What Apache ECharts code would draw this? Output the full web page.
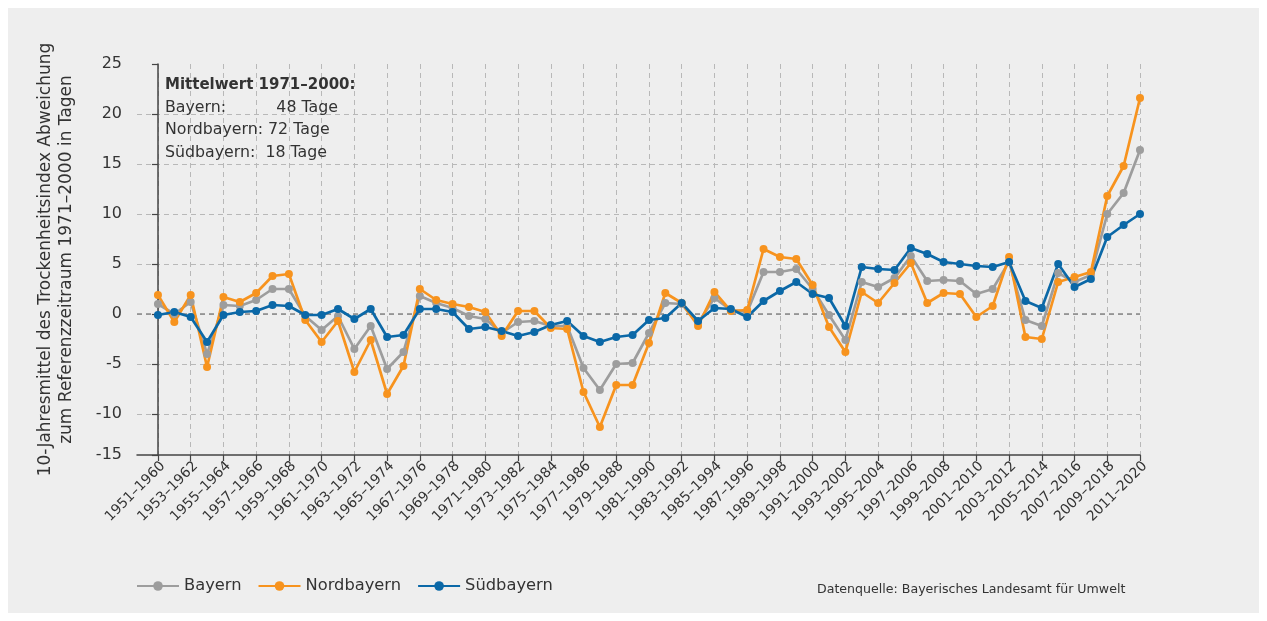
<!DOCTYPE html>
<html>
<head>
<meta charset="utf-8">
<script src="https://cdn.jsdelivr.net/npm/echarts@6/dist/echarts.min.js"></script>
<style>
	html, body { margin: 0; padding: 0; background: #fff; }
	#panel { position: absolute; left: 8px; top: 8px; width: 1251px; height: 605px; background: #eeeeee; }
	#chart { position: absolute; left: 0; top: 0; width: 1267px; height: 621px; }
</style>
</head>
<body>
<div id="panel"></div>
<div id="chart"></div>
<script>
// Zeiträume (gleitende 10-Jahres-Fenster)
const zeitraeume = [];
for (let y = 1951; y <= 2011; y++) {
	zeitraeume.push(y + '–' + (y + 9));
}

// Abweichung in Tagen
const bayern = [1.0, 0.0, 1.2, -4.0, 0.9, 0.8, 1.4, 2.5, 2.5, -0.2, -1.6,
	-0.2, -3.5, -1.2, -5.5, -3.8, 1.8, 1.1, 0.6, -0.2, -0.5,
	-1.9, -0.8, -0.7, -1.2, -1.2, -5.4, -7.6, -5.0, -4.9, -1.9,
	1.1, 1.0, -0.9, 1.6, 0.4, 0.2, 4.2, 4.2, 4.5, 2.5,
	-0.1, -2.6, 3.2, 2.7, 3.6, 5.8, 3.3, 3.4, 3.3, 2.0,
	2.5, 5.2, -0.6, -1.2, 4.1, 3.2, 3.9, 10.0, 12.1, 16.4];

const nordbayern = [1.9, -0.8, 1.9, -5.3, 1.7, 1.2, 2.1, 3.8, 4.0, -0.6, -2.8,
	-0.7, -5.8, -2.6, -8.0, -5.2, 2.5, 1.4, 1.0, 0.7, 0.2,
	-2.2, 0.3, 0.3, -1.4, -1.5, -7.8, -11.3, -7.1, -7.1, -2.9,
	2.1, 1.1, -1.2, 2.2, 0.3, 0.4, 6.5, 5.7, 5.5, 2.9,
	-1.3, -3.8, 2.2, 1.1, 3.1, 5.1, 1.1, 2.1, 2.0, -0.3,
	0.8, 5.7, -2.3, -2.5, 3.2, 3.7, 4.2, 11.8, 14.8, 21.6];

const suedbayern = [-0.1, 0.2, -0.3, -2.8, -0.1, 0.2, 0.3, 0.9, 0.8, -0.1, -0.1,
	0.5, -0.5, 0.5, -2.3, -2.1, 0.5, 0.5, 0.2, -1.5, -1.3,
	-1.7, -2.2, -1.8, -1.1, -0.7, -2.2, -2.8, -2.3, -2.1, -0.6,
	-0.4, 1.1, -0.7, 0.6, 0.5, -0.3, 1.3, 2.3, 3.2, 2.0,
	1.6, -1.2, 4.7, 4.5, 4.4, 6.6, 6.0, 5.2, 5.0, 4.8,
	4.7, 5.2, 1.3, 0.6, 5.0, 2.7, 3.5, 7.7, 8.9, 10.0];

// beschriftete Positionen (jeder zweite Zeitraum)
const xTicks = [];
for (let i = 0; i < zeitraeume.length; i += 2) xTicks.push(i);
const yMinPlot = -14.1;
const yTicks = [yMinPlot, -10, -5, 0, 5, 10, 15, 20, 25];

const font = '"DejaVu Sans", Verdana, sans-serif';
const farben = ['#9d9d9d', '#f7931e', '#0b68a7'];

const chart = echarts.init(document.getElementById('chart'));

function toXY(values) {
	return values.map(function (v, i) { return [i, v]; });
}

function lineSeries(name, values, color) {
	return {
		name: name,
		type: 'line',
		data: toXY(values),
		symbol: 'circle',
		symbolSize: 8,
		lineStyle: { width: 2.7, color: color },
		itemStyle: { color: color },
		emphasis: { disabled: true }
	};
}

const option = {
	animation: false,
	textStyle: { fontFamily: font },
	title: [
		{
			left: 160,
			top: 69,
			text: '{b|Mittelwert 1971–2000:}\n{n|Bayern:          48 Tage}\n{n|Nordbayern: 72 Tage}\n{n|Südbayern:  18 Tage}',
			textStyle: {
				fontWeight: 'normal',
				rich: {
					b: { fontFamily: font, fontSize: 15, fontWeight: 'bold', color: '#333', lineHeight: 22.5 },
					n: { fontFamily: font, fontSize: 15.8, fontWeight: 'normal', color: '#333', lineHeight: 22.5 }
				}
			}
		},
		{
			left: 812,
			top: 578,
			text: 'Datenquelle: Bayerisches Landesamt für Umwelt',
			textStyle: { fontFamily: font, fontSize: 12.6, fontWeight: 'normal', color: '#333' }
		}
	],
	legend: {
		left: 131,
		top: 573,
		itemWidth: 42,
		itemHeight: 12,
		itemGap: 16,
		textStyle: { fontFamily: font, fontSize: 16.3, color: '#333' },
		data: ['Bayern', 'Nordbayern', 'Südbayern']
	},
	grid: {
		left: 137,
		right: 127,
		top: 64,
		bottom: 166,
		containLabel: false
	},
	xAxis: {
		type: 'value',
		min: -1.28,
		max: zeitraeume.length - 1,
		axisLine: { show: true, onZero: false, lineStyle: { color: '#444', width: 1.5 } },
		axisTick: { show: true, customValues: xTicks, length: 6, lineStyle: { color: '#444', width: 1.2 } },
		axisLabel: {
			customValues: xTicks,
			rotate: 45,
			margin: 4,
			verticalAlign: 'top',
			fontSize: 14,
			color: '#333',
			fontFamily: font,
			formatter: function (v) { return zeitraeume[Math.round(v)]; }
		},
		splitLine: {
			show: true,
			lineStyle: { color: '#b8b8b8', type: [5, 4], width: 1 }
		}
	},
	yAxis: {
		type: 'value',
		min: yMinPlot,
		max: 25,
		name: '10-Jahresmittel des Trockenheitsindex Abweichung\nzum Referenzzeitraum 1971–2000 in Tagen',
		nameLocation: 'middle',
		nameGap: 60,
		nameTextStyle: { fontFamily: font, fontSize: 17, color: '#333', lineHeight: 21 },
		axisLine: { show: true, lineStyle: { color: '#444', width: 1.5 } },
		axisTick: { show: true, customValues: yTicks, length: 6, lineStyle: { color: '#444', width: 1.2 } },
		axisLabel: {
			customValues: yTicks,
			margin: 15,
			fontSize: 16,
			color: '#333',
			fontFamily: font,
			formatter: function (v) { return v < -14 ? '-15' : String(v); }
		},
		splitLine: {
			show: true,
			showMinLine: false,
			showMaxLine: false,
			lineStyle: { color: '#b8b8b8', type: [5, 4], width: 1 }
		}
	},
	series: [
		Object.assign(lineSeries('Bayern', bayern, farben[0]), {
			markLine: {
				silent: true,
				symbol: 'none',
				label: { show: false },
				lineStyle: { color: '#888', type: [5, 4], width: 1.6 },
				data: [{ yAxis: 0 }],
				z: 1
			}
		}),
		lineSeries('Nordbayern', nordbayern, farben[1]),
		lineSeries('Südbayern', suedbayern, farben[2])
	]
};

chart.setOption(option);
</script>
</body>
</html>
